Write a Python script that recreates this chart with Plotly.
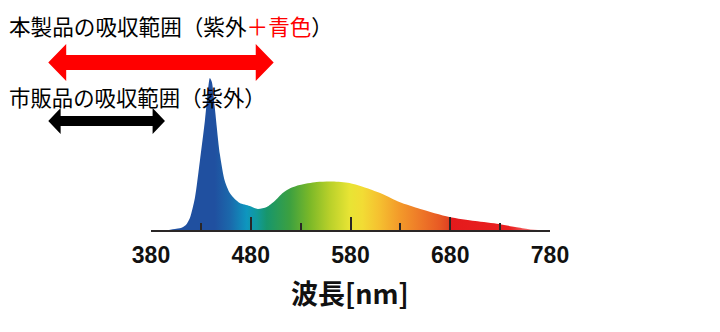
import plotly.graph_objects as go

# ---------------- data ----------------
wavelength = [398, 404, 410, 415, 419, 424, 429, 434, 437, 439, 441, 444, 449, 454, 459,
              464, 469, 479, 487, 496, 504, 512, 520, 529, 546, 562, 579, 596, 612,
              629, 650, 679, 705, 729, 745, 759, 768]
intensity = [0, 1, 2, 5, 12, 32, 69, 109, 139, 152, 148, 122, 76, 49, 37,
             31, 27, 24, 21, 23, 29, 37, 42, 45, 48, 48.5, 47, 42, 36,
             28, 21, 13, 9, 6, 3, 0.8, 0]

major_ticks = [380, 480, 580, 680, 780]
minor_ticks = [430, 530, 630, 730]
x_range = [380, 780]

# absorption ranges drawn as schematic double arrows (nm)
product_range = [277, 503]
market_range = [277, 394]

label_product = '本製品の吸収範囲（紫外<span style="color:#ff0000">＋青色</span>）'
label_market = '市販品の吸収範囲（紫外）'
axis_title = '<b>波長[nm]</b>'

# spectrum gradient (wavelength -> colour)
spectrum_colors = [
    (400, '#2050a0'), (444, '#2050a0'), (459, '#1b68ab'), (476, '#0e96bf'),
    (486, '#119a9c'), (496, '#17966c'), (519, '#3ca040'), (539, '#7ab828'),
    (559, '#b8d02a'), (579, '#e8e434'), (592, '#f2dc34'), (609, '#f5c030'),
    (629, '#f39a2a'), (649, '#ee7a28'), (669, '#e85a24'), (678, '#e24422'),
    (680, '#e41a1c'), (740, '#ea2020'), (768, '#f58a8a'),
]

# ---------------- figure ----------------
W, H = 720, 332
px_per_nm = 399 / 400
ax_left, ax_right = 151, 550
base_px = 230

fig = go.Figure()

g0, g1 = spectrum_colors[0][0], spectrum_colors[-1][0]
cscale = [[(w - g0) / (g1 - g0), c] for w, c in spectrum_colors]

fig.add_trace(go.Scatter(
    x=wavelength, y=intensity, mode='lines', fill='tozeroy',
    line=dict(width=0, shape='spline', smoothing=0.7, color='rgba(0,0,0,0)'),
    fillgradient=dict(type='horizontal', colorscale=cscale, start=g0, stop=g1),
    hoverinfo='skip', showlegend=False, xaxis='x', yaxis='y'))


def fat_arrow(x0, x1, yc, hl, hh, sh):
    xs = [x0, x0 + hl, x0 + hl, x1 - hl, x1 - hl, x1, x1 - hl, x1 - hl, x0 + hl, x0 + hl, x0]
    ys = [yc, yc + hh, yc + sh, yc + sh, yc + hh, yc, yc - hh, yc - sh, yc - sh, yc - hh, yc]
    return xs, ys


for rng, yc, hl, hh, sh, col in [
        (product_range, base_px - 62.5, 18, 18.5, 7.5, '#ff0000'),
        (market_range, base_px - 121, 12.4, 13, 5, '#000000')]:
    xs, ys = fat_arrow(rng[0], rng[1], yc, hl, hh, sh)
    fig.add_trace(go.Scatter(x=xs, y=ys, mode='lines', fill='toself', fillcolor=col,
                             line=dict(width=0, color=col), hoverinfo='skip',
                             showlegend=False, xaxis='x2', yaxis='y2'))

x2_lo = x_range[0] - ax_left / px_per_nm
x2_hi = x_range[1] + (W - ax_right) / px_per_nm

cjk = 'Noto Sans CJK JP, Noto Sans, sans-serif'
fig.add_annotation(text=label_product, xref='paper', yref='paper', x=7 / W, y=(H - 25) / H,
                   xanchor='left', yanchor='middle', showarrow=False,
                   font=dict(family=cjk, size=21.6, color='#000000'))
fig.add_annotation(text=label_market, xref='paper', yref='paper', x=7 / W, y=(H - 97) / H,
                   xanchor='left', yanchor='middle', showarrow=False,
                   font=dict(family=cjk, size=21.4, color='#000000'))
fig.add_annotation(text=axis_title, xref='paper', yref='paper', x=350 / W, y=(H - 292) / H,
                   xanchor='center', yanchor='middle', showarrow=False,
                   font=dict(family=cjk, size=27, color='#111111'))

fig.update_layout(
    width=W, height=H, margin=dict(l=0, r=0, t=0, b=0),
    paper_bgcolor='white', plot_bgcolor='rgba(0,0,0,0)', template='none',
    showlegend=False,
    xaxis=dict(domain=[ax_left / W, ax_right / W], range=x_range, anchor='y',
               showgrid=False, zeroline=False, showline=True, linewidth=2,
               linecolor='#2a2626', ticks='inside', ticklen=13, tickwidth=2,
               tickcolor='#2a2626', tickvals=major_ticks,
               ticktext=[str(v) for v in major_ticks], ticklabelstandoff=3,
               tickfont=dict(family='Liberation Sans, Arial, sans-serif',
                             size=23, color='#111111', weight='bold'),
               minor=dict(tickvals=minor_ticks, ticks='inside', ticklen=7, tickwidth=2,
                          tickcolor='#2a2626', showgrid=False),
               automargin=False, fixedrange=True),
    yaxis=dict(domain=[(H - base_px) / H, 1], range=[0, base_px], anchor='x',
               visible=False, automargin=False, fixedrange=True),
    xaxis2=dict(domain=[0, 1], range=[x2_lo, x2_hi], anchor='y2', visible=False,
                automargin=False, fixedrange=True),
    yaxis2=dict(domain=[0, 1], range=[base_px - H, base_px], anchor='x2', visible=False,
                automargin=False, fixedrange=True),
)

fig.write_html('out.html')
